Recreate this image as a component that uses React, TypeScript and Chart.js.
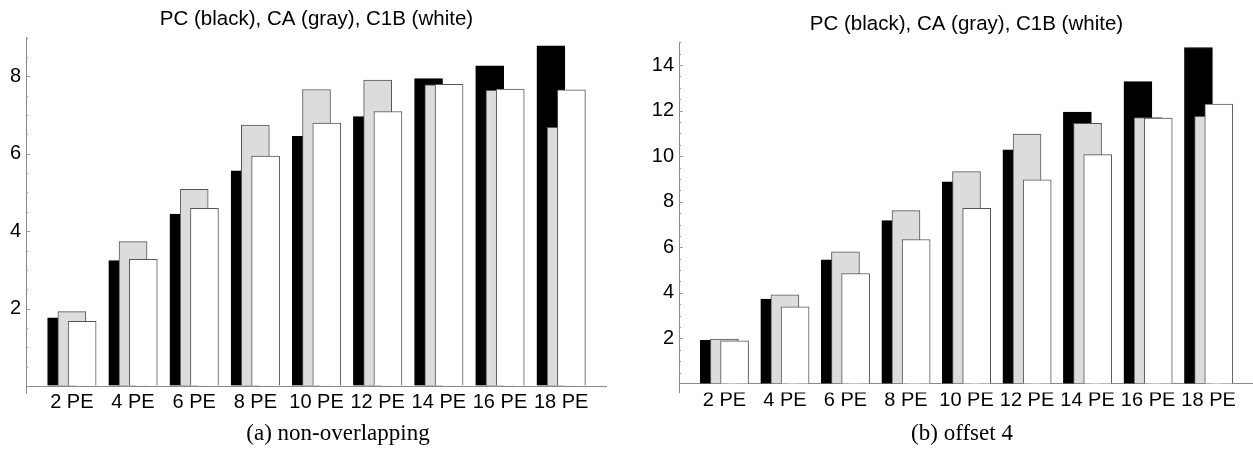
import React, { useEffect, useRef } from 'react';
import { Chart, registerables } from 'chart.js';

Chart.register(...registerables);

const categories = ['2 PE', '4 PE', '6 PE', '8 PE', '10 PE', '12 PE', '14 PE', '16 PE', '18 PE'];

// (a) non-overlapping
const pcA = [1.76, 3.24, 4.44, 5.56, 6.45, 6.96, 7.94, 8.27, 8.79];
const caA = [1.92, 3.73, 5.08, 6.74, 7.66, 7.9, 7.78, 7.64, 6.68];
const c1bA = [1.67, 3.27, 4.59, 5.94, 6.79, 7.09, 7.79, 7.67, 7.65];
const yTicksA = [2, 4, 6, 8];

// (b) offset 4
const pcB = [1.91, 3.73, 5.45, 7.17, 8.87, 10.28, 11.94, 13.27, 14.77];
const caB = [1.97, 3.91, 5.8, 7.61, 9.32, 10.97, 11.44, 11.7, 11.75];
const c1bB = [1.89, 3.39, 4.85, 6.34, 7.71, 8.96, 10.07, 11.67, 12.29];
const yTicksB = [2, 4, 6, 8, 10, 12, 14];

const TITLE = 'PC (black), CA (gray), C1B (white)';
const SANS = '"Liberation Sans", Arial, Helvetica, sans-serif';
const AXIS_COLOR = '#8a8a8a';
const BAR_EDGE = '#555555';
const BAR_SHIFT = 0.168;

const innerTicks = {
  id: 'innerTicks',
  afterDraw(chart: any, _args: any, opts: any) {
    const y = chart.scales.y;
    const x0 = chart.chartArea.left;
    const ctx = chart.ctx;
    ctx.save();
    ctx.strokeStyle = '#9a9a9a';
    ctx.lineWidth = 1;
    const step = opts.step || 0.5;
    const majors: number[] = opts.majors || [];
    for (let k = 1; k * step <= y.max + 1e-9; k++) {
      const v = k * step;
      const p = Math.round(y.getPixelForValue(v)) + 0.5;
      const len = majors.indexOf(v) >= 0 ? 4 : 2;
      ctx.beginPath();
      ctx.moveTo(x0, p);
      ctx.lineTo(x0 + len, p);
      ctx.stroke();
    }
    ctx.restore();
  },
};

type PanelProps = {
  pc: number[];
  ca: number[];
  c1b: number[];
  yTicks: number[];
  yMin: number;
  yMax: number;
  yAxisWidth: number;
  padRight: number;
  titleTop: number;
  titleBottom: number;
  padBottom: number;
  xLabelPad: number;
};

function series(values: number[], shift: number) {
  return values.map((v, i) => ({ x: i + shift, y: v }));
}

function Panel(p: PanelProps) {
  const ref = useRef<HTMLCanvasElement | null>(null);
  useEffect(() => {
    if (!ref.current) return;
    const common = {
      barThickness: 28,
      grouped: false,
      borderWidth: 1,
      borderSkipped: 'start',
    };
    const chart = new Chart(ref.current, {
      type: 'bar',
      data: {
        datasets: [
          {
            label: 'PC',
            data: series(p.pc, -BAR_SHIFT),
            backgroundColor: '#000000',
            borderColor: '#000000',
            order: 3,
            ...common,
          } as any,
          {
            label: 'CA',
            data: series(p.ca, 0),
            backgroundColor: '#dcdcdc',
            borderColor: BAR_EDGE,
            order: 2,
            ...common,
          } as any,
          {
            label: 'C1B',
            data: series(p.c1b, BAR_SHIFT),
            backgroundColor: '#ffffff',
            borderColor: BAR_EDGE,
            order: 1,
            ...common,
          } as any,
        ],
      },
      options: {
        animation: false,
        responsive: false,
        maintainAspectRatio: false,
        layout: { padding: { left: 0, right: p.padRight, top: 0, bottom: p.padBottom } },
        plugins: {
          legend: { display: false },
          tooltip: { enabled: false },
          title: {
            display: true,
            text: TITLE,
            fullSize: false,
            color: '#000000',
            font: { family: SANS, size: 20.5, weight: 'normal' },
            padding: { top: p.titleTop, bottom: p.titleBottom },
          },
          innerTicks: { step: 0.5, majors: p.yTicks },
        } as any,
        scales: {
          x: {
            type: 'linear',
            position: 'bottom',
            offset: false,
            min: -0.75,
            max: 8.75,
            afterFit: (s: any) => {
              s.height = 30;
            },
            afterBuildTicks: (s: any) => {
              s.ticks = categories.map((_, i) => ({ value: i }));
            },
            ticks: {
              autoSkip: false,
              maxRotation: 0,
              minRotation: 0,
              padding: p.xLabelPad,
              color: '#000000',
              font: { family: SANS, size: 20 },
              callback: (v: any) => categories[Math.round(Number(v))] ?? '',
            },
            grid: { display: false, offset: false, drawOnChartArea: false, drawTicks: false },
            border: { display: false },
          } as any,
          y: {
            type: 'linear',
            position: 'left',
            min: p.yMin,
            max: p.yMax,
            afterFit: (s: any) => {
              s.width = p.yAxisWidth;
            },
            afterBuildTicks: (s: any) => {
              s.ticks = [0, ...p.yTicks].map((v) => ({ value: v }));
            },
            ticks: {
              autoSkip: false,
              padding: 5,
              color: '#000000',
              font: { family: SANS, size: 20 },
              callback: (v: any) => (Number(v) === 0 ? '' : String(v)),
            },
            grid: {
              display: true,
              drawOnChartArea: true,
              drawTicks: false,
              lineWidth: 1,
              color: (c: any) => (c.tick && c.tick.value === 0 ? AXIS_COLOR : 'rgba(0,0,0,0)'),
            },
            border: { display: true, color: AXIS_COLOR, width: 1 },
          } as any,
        },
      },
      plugins: [innerTicks as any],
    });
    return () => chart.destroy();
  }, []);
  return <canvas ref={ref} width={630} height={450} style={{ width: 630, height: 450, display: 'block' }} />;
}

const captionStyle: React.CSSProperties = {
  position: 'absolute',
  top: 421,
  width: 300,
  textAlign: 'center',
  fontFamily: '"Liberation Serif", "Times New Roman", serif',
  fontSize: 23,
  lineHeight: '23px',
  color: '#000',
  whiteSpace: 'nowrap',
};

export default function App() {
  return (
    <div
      style={{
        position: 'absolute',
        left: 0,
        top: 0,
        width: 1253,
        height: 450,
        overflow: 'hidden',
        background: '#ffffff',
      }}
    >
      <div style={{ position: 'absolute', left: 0, top: 0 }}>
        <Panel
          pc={pcA}
          ca={caA}
          c1b={c1bA}
          yTicks={yTicksA}
          yMin={-0.18}
          yMax={9}
          yAxisWidth={26}
          padRight={23}
          titleTop={7}
          titleBottom={6}
          padBottom={27}
          xLabelPad={-3}
        />
      </div>
      <div style={{ position: 'absolute', left: 630, top: 0 }}>
        <Panel
          pc={pcB}
          ca={caB}
          c1b={c1bB}
          yTicks={yTicksB}
          yMin={-0.38}
          yMax={15}
          yAxisWidth={49}
          padRight={6}
          titleTop={12.5}
          titleBottom={5.2}
          padBottom={27.4}
          xLabelPad={-4.5}
        />
      </div>
      <div style={{ ...captionStyle, left: 338 - 150 }}>(a) non-overlapping</div>
      <div style={{ ...captionStyle, left: 962 - 150 }}>(b) offset 4</div>
    </div>
  );
}
